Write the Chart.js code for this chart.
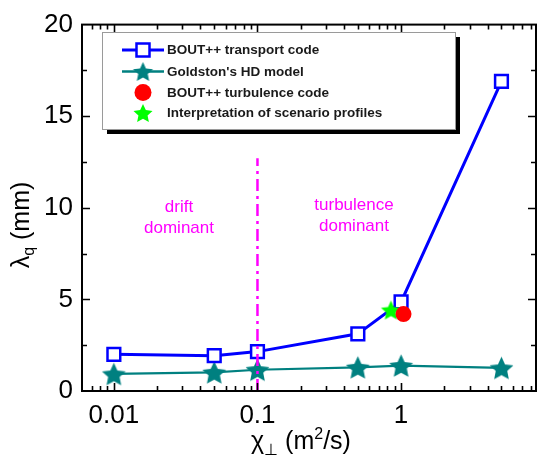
<!DOCTYPE html>
<html>
<head>
<meta charset="utf-8">
<script src="https://cdn.jsdelivr.net/npm/chart.js@4.4.1/dist/chart.umd.min.js"></script>
<style>
    html, body { margin: 0; padding: 0; background: #fff; }
    #wrap { width: 539px; height: 455px; position: relative; }
</style>
</head>
<body>
<div id="wrap"><canvas id="lambdaChart"></canvas></div>
<script>
// chi_perp (m^2/s) scan points
const chiValues = [0.01, 0.05, 0.1, 0.5, 1, 5];
// lambda_q (mm) from BOUT++ transport runs
const transportLambda = [2.0, 1.93, 2.15, 3.12, 4.86, 16.9];
// lambda_q (mm) from Goldston's heuristic drift model
const goldstonLambda = [0.93, 1.02, 1.16, 1.29, 1.39, 1.26];
// single turbulence run and scenario interpretation
const turbulenceChi = [1.04];
const turbulenceLambda = [4.2];
const scenarioChi = [0.85];
const scenarioLambda = [4.42];
// drift / turbulence boundary
const boundaryChi = [0.1, 0.1];
const boundaryLambda = [0, 12.7];

const xTicks = [0.01, 0.1, 1];
const yTicks = [0, 5, 10, 15, 20];

const FONT = "'Liberation Sans', Arial, sans-serif";
const BLUE = '#0000ff';
const TEAL = '#008080';
const RED = '#ff0000';
const LIME = '#00ff00';
const MAGENTA = '#ff00ff';

const toPoints = (xs, ys) => xs.map((x, i) => ({ x: x, y: ys[i] }));

// filled five-pointed star as an image for pointStyle
function makeStar(color, outer, inner) {
    const c = document.createElement('canvas');
    const s = Math.ceil(outer * 2 + 4);
    c.width = s;
    c.height = s;
    const g = c.getContext('2d');
    g.translate(s / 2, s / 2 + outer * 0.1);
    g.beginPath();
    for (let i = 0; i < 10; i++) {
        const r = i % 2 === 0 ? outer : inner;
        const a = -Math.PI / 2 + i * Math.PI / 5;
        g.lineTo(r * Math.cos(a), r * Math.sin(a));
    }
    g.closePath();
    g.fillStyle = color;
    g.fill();
    return c;
}

const tealStar = makeStar(TEAL, 12.5, 6);
const limeStar = makeStar(LIME, 10.5, 5);
const tealStarSmall = makeStar(TEAL, 10.5, 5);
const limeStarSmall = makeStar(LIME, 10, 4.8);

// frame with inward major/minor ticks on all four sides
const framePlugin = {
    id: 'frame',
    afterDatasetsDraw(chart) {
        const { ctx, chartArea: a } = chart;
        const xs = chart.scales.x, ys = chart.scales.y;
        ctx.save();
        ctx.strokeStyle = '#000';
        ctx.lineWidth = 1.6;
        ctx.beginPath();
        // x ticks (log decades)
        const lo = Math.floor(Math.log10(xs.min)), hi = Math.ceil(Math.log10(xs.max));
        for (let d = lo; d <= hi; d++) {
            for (let m = 1; m <= 9; m++) {
                const v = m * Math.pow(10, d);
                if (v <= xs.min || v >= xs.max) continue;
                const px = Math.round(xs.getPixelForValue(v)) + 0.5;
                const len = m === 1 ? 8 : 5;
                ctx.moveTo(px, a.bottom); ctx.lineTo(px, a.bottom - len);
                ctx.moveTo(px, a.top); ctx.lineTo(px, a.top + len);
            }
        }
        // y ticks
        for (let v = 2.5; v < 20; v += 2.5) {
            const py = Math.round(ys.getPixelForValue(v)) + 0.5;
            const len = v % 5 === 0 ? 8 : 5;
            ctx.moveTo(a.left, py); ctx.lineTo(a.left + len, py);
            ctx.moveTo(a.right, py); ctx.lineTo(a.right - len, py);
        }
        ctx.stroke();
        ctx.lineWidth = 2;
        ctx.strokeRect(a.left, a.top, a.right - a.left, a.bottom - a.top);
        ctx.restore();
    }
};

// legend box with drop shadow, region labels and axis titles
const decorPlugin = {
    id: 'decor',
    afterDraw(chart) {
        const ctx = chart.ctx;
        ctx.save();

        // legend
        const bx = 102, by = 32, bw = 353, bh = 97;
        ctx.fillStyle = '#000';
        ctx.fillRect(bx + 5, by + 5, bw, bh);
        ctx.fillStyle = '#fff';
        ctx.fillRect(bx, by, bw, bh);
        ctx.strokeStyle = '#9a9a9a';
        ctx.lineWidth = 1;
        ctx.strokeRect(bx + 0.5, by + 0.5, bw, bh);

        const rows = [50, 71.5, 92.5, 113];
        const mx = 143;
        // transport code: line + open square
        ctx.strokeStyle = BLUE;
        ctx.lineWidth = 3;
        ctx.beginPath(); ctx.moveTo(122, rows[0]); ctx.lineTo(164, rows[0]); ctx.stroke();
        ctx.fillStyle = '#fff';
        ctx.lineWidth = 2.5;
        ctx.fillRect(mx - 6.5, rows[0] - 6.5, 13, 13);
        ctx.strokeRect(mx - 6.5, rows[0] - 6.5, 13, 13);
        // HD model: line + star
        ctx.strokeStyle = TEAL;
        ctx.lineWidth = 2.5;
        ctx.beginPath(); ctx.moveTo(122, rows[1]); ctx.lineTo(164, rows[1]); ctx.stroke();
        ctx.drawImage(tealStarSmall, mx - tealStarSmall.width / 2, rows[1] - tealStarSmall.height / 2);
        // turbulence code: dot
        ctx.fillStyle = RED;
        ctx.beginPath(); ctx.arc(mx, rows[2], 8.5, 0, Math.PI * 2); ctx.fill();
        // scenario: lime star
        ctx.drawImage(limeStarSmall, mx - limeStarSmall.width / 2, rows[3] - limeStarSmall.height / 2);

        ctx.fillStyle = '#1a1a1a';
        ctx.font = 'bold 13.5px ' + FONT;
        ctx.textAlign = 'left';
        ctx.textBaseline = 'middle';
        const names = ['BOUT++ transport code', "Goldston's HD model", 'BOUT++ turbulence code', 'Interpretation of scenario profiles'];
        names.forEach((n, i) => ctx.fillText(n, 167, rows[i] + 0.5));

        // region labels
        ctx.fillStyle = MAGENTA;
        ctx.font = '17px ' + FONT;
        ctx.textAlign = 'center';
        ctx.fillText('drift', 179, 207);
        ctx.fillText('dominant', 179, 228);
        ctx.fillText('turbulence', 354, 205);
        ctx.fillText('dominant', 354, 226);

        // axis titles
        ctx.fillStyle = '#000';
        ctx.textBaseline = 'alphabetic';
        ctx.textAlign = 'left';
        const big = '25px ' + FONT, sub = '16px ' + FONT;

        // x: chi_perp (m^2/s)
        const parts = [
            { t: '\u03c7', f: big, dy: 0 },
            { t: '\u22a5', f: sub, dy: 6 },
            { t: ' (m', f: big, dy: 0 },
            { t: '2', f: sub, dy: -10 },
            { t: '/s)', f: big, dy: 0 }
        ];
        let w = 0;
        parts.forEach(p => { ctx.font = p.f; p.w = ctx.measureText(p.t).width; w += p.w; });
        let x = 301 - w / 2;
        parts.forEach(p => { ctx.font = p.f; ctx.fillText(p.t, x, 449 + p.dy); x += p.w; });

        // y: lambda_q (mm)
        ctx.translate(29, 225);
        ctx.rotate(-Math.PI / 2);
        const yparts = [
            { t: '\u03bb', f: big, dy: 0 },
            { t: 'q', f: sub, dy: 5 },
            { t: ' (mm)', f: big, dy: 0 }
        ];
        w = 0;
        yparts.forEach(p => { ctx.font = p.f; p.w = ctx.measureText(p.t).width; w += p.w; });
        x = -w / 2;
        yparts.forEach(p => { ctx.font = p.f; ctx.fillText(p.t, x, 0 + p.dy); x += p.w; });

        ctx.restore();
    }
};

new Chart(document.getElementById('lambdaChart'), {
    type: 'line',
    data: {
        datasets: [
            {
                label: 'drift/turbulence boundary',
                data: toPoints(boundaryChi, boundaryLambda),
                borderColor: MAGENTA,
                borderWidth: 2.5,
                borderDash: [12, 5, 3, 5],
                pointRadius: 0,
                order: 0
            },
            {
                label: 'BOUT++ turbulence code',
                data: toPoints(turbulenceChi, turbulenceLambda),
                showLine: false,
                pointStyle: 'circle',
                pointRadius: 8,
                backgroundColor: RED,
                borderColor: RED,
                borderWidth: 0,
                order: 1
            },
            {
                label: 'Interpretation of scenario profiles',
                data: toPoints(scenarioChi, scenarioLambda),
                showLine: false,
                pointStyle: limeStar,
                order: 2
            },
            {
                label: 'BOUT++ transport code',
                data: toPoints(chiValues, transportLambda),
                borderColor: BLUE,
                borderWidth: 3,
                pointStyle: 'rect',
                pointRadius: 9,
                pointBorderWidth: 2.5,
                pointBackgroundColor: '#fff',
                pointBorderColor: BLUE,
                order: 3
            },
            {
                label: "Goldston's HD model",
                data: toPoints(chiValues, goldstonLambda),
                borderColor: TEAL,
                borderWidth: 2.2,
                pointStyle: tealStar,
                order: 4
            }
        ]
    },
    options: {
        responsive: true,
        maintainAspectRatio: false,
        animation: false,
        layout: { autoPadding: false, padding: { left: 0, right: 3, top: 23, bottom: 0 } },
        plugins: {
            legend: { display: false },
            tooltip: { enabled: false }
        },
        scales: {
            x: {
                type: 'logarithmic',
                min: 0.006,
                max: 8.7,
                grid: { display: false, drawTicks: false },
                border: { display: false },
                afterBuildTicks: s => { s.ticks = xTicks.map(v => ({ value: v })); },
                afterFit: s => { s.height = 64; },
                ticks: {
                    autoSkip: false,
                    maxRotation: 0,
                    padding: 9,
                    color: '#000',
                    font: { family: FONT, size: 26 },
                    callback: v => String(v)
                }
            },
            y: {
                min: 0,
                max: 20,
                grid: { display: false, drawTicks: false },
                border: { display: false },
                afterBuildTicks: s => { s.ticks = yTicks.map(v => ({ value: v })); },
                afterFit: s => { s.width = 82; },
                ticks: {
                    padding: 9,
                    color: '#000',
                    font: { family: FONT, size: 26 }
                }
            }
        }
    },
    plugins: [framePlugin, decorPlugin]
});
</script>
</body>
</html>
